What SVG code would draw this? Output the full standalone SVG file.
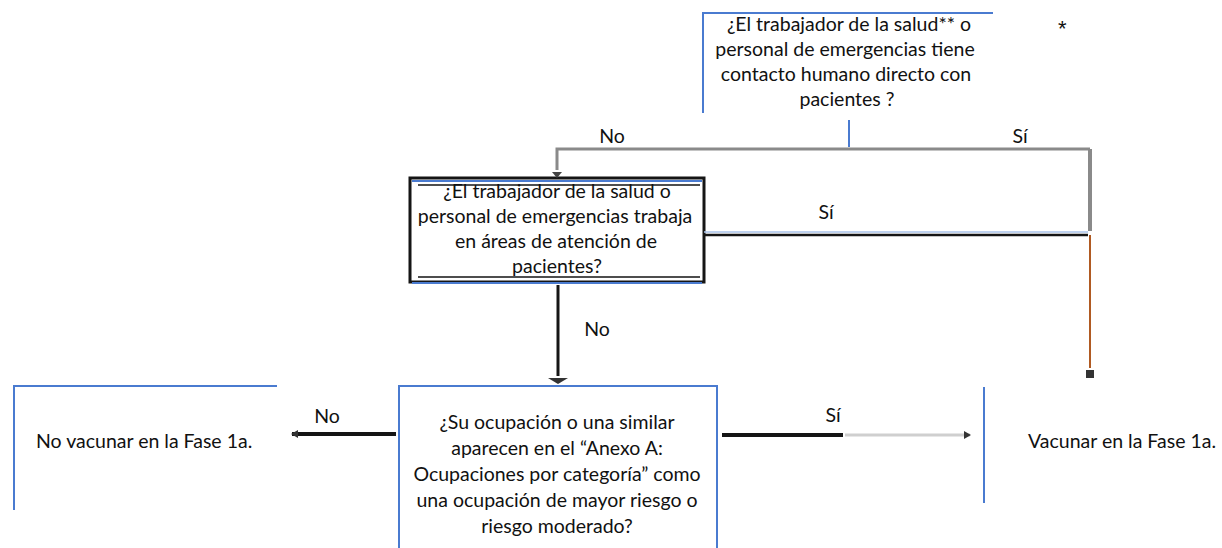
<svg xmlns="http://www.w3.org/2000/svg" width="1222" height="548" viewBox="0 0 1222 548">
<style>
text{font-family:Lato,"Liberation Sans",sans-serif;font-size:19.5px;fill:#111}
.c{text-anchor:middle}
.blue{stroke:#4a7bd0;stroke-width:2;fill:none}
.gray{stroke:#8a8a8a;fill:none}
.blk{stroke:#151515;fill:none}
</style>
<defs>
<marker id="ah" markerWidth="8" markerHeight="8" refX="6" refY="4" orient="auto" markerUnits="userSpaceOnUse">
<path d="M0,0 L7,4 L0,8 z" fill="#333"/>
</marker>
</defs>
<rect width="1222" height="548" fill="#fff"/>

<g id="q1">
<path class="blue" d="M703,113 V13 H993"/>
<text class="c" x="849" y="31">¿El trabajador de la salud** o</text>
<text class="c" x="845" y="56">personal de emergencias tiene</text>
<text class="c" x="846" y="81">contacto humano directo con</text>
<text class="c" x="847" y="106">pacientes ?</text>
<text x="1058" y="36" style="font-family:'Liberation Sans',sans-serif;font-size:22px">*</text>
</g>

<g id="q2">
<rect x="410" y="178" width="294" height="104" class="blk" stroke-width="3"/>
<path class="blk" stroke-width="1.5" d="M418,185 H700 M418,277 H700"/>
<path class="blue" d="M412,181 H702 M412,283 H702"/>
<text class="c" x="557" y="198">¿El trabajador de la salud o</text>
<text class="c" x="555" y="223">personal de emergencias trabaja</text>
<text class="c" x="556" y="248">en áreas de atención de</text>
<text class="c" x="557" y="273">pacientes?</text>
</g>

<g id="q3">
<path class="blue" d="M399,548 V386 H717 V548"/>
<text class="c" x="557" y="429">¿Su ocupación o una similar</text>
<text class="c" x="557" y="455">aparecen en el “Anexo A:</text>
<text class="c" x="557" y="481">Ocupaciones por categoría” como</text>
<text class="c" x="557" y="507">una ocupación de mayor riesgo o</text>
<text class="c" x="557" y="533">riesgo moderado?</text>
</g>

<g id="no">
<path class="blue" d="M14,510 V386 H277"/>
<text x="36" y="448">No vacunar en la Fase 1a.</text>
</g>

<g id="yes">
<path class="blue" d="M984,387 V503"/>
<text x="1028" y="448">Vacunar en la Fase 1a.</text>
</g>

<g id="connectors">
<path class="blue" stroke-width="3" d="M849,120 V147"/>
<path class="gray" stroke-width="3" d="M557,170 V149 H1090"/>
<path d="M552,172 L557,178 L562,172" fill="#444"/>
<path class="gray" stroke-width="4" d="M1090,149 V231"/>
<path stroke="#b05a22" stroke-width="2" fill="none" d="M1090,235 V368"/>
<rect x="1086" y="370" width="8" height="8" fill="#333"/>
<path stroke="#a9c2e8" stroke-width="1.5" d="M704,232 H1088"/>
<path class="blk" stroke-width="2.5" d="M704,235 H1088"/>
<path class="blk" stroke-width="3" d="M558,285 V376"/>
<path d="M548,378 L558,384 L568,378 z" fill="#333"/>
<path class="blk" stroke-width="4" d="M396,434 H292" marker-end="url(#ah)"/>
<path class="blk" stroke-width="4" d="M722,435 H843"/>
<path stroke="#cfcfcf" stroke-width="3" d="M845,435 H970" marker-end="url(#ah)"/>
<text class="c" x="612" y="143">No</text>
<text class="c" x="1020" y="143">Sí</text>
<text class="c" x="826" y="219">Sí</text>
<text class="c" x="597" y="336">No</text>
<text class="c" x="327" y="423">No</text>
<text class="c" x="833" y="422">Sí</text>
</g>
</svg>
